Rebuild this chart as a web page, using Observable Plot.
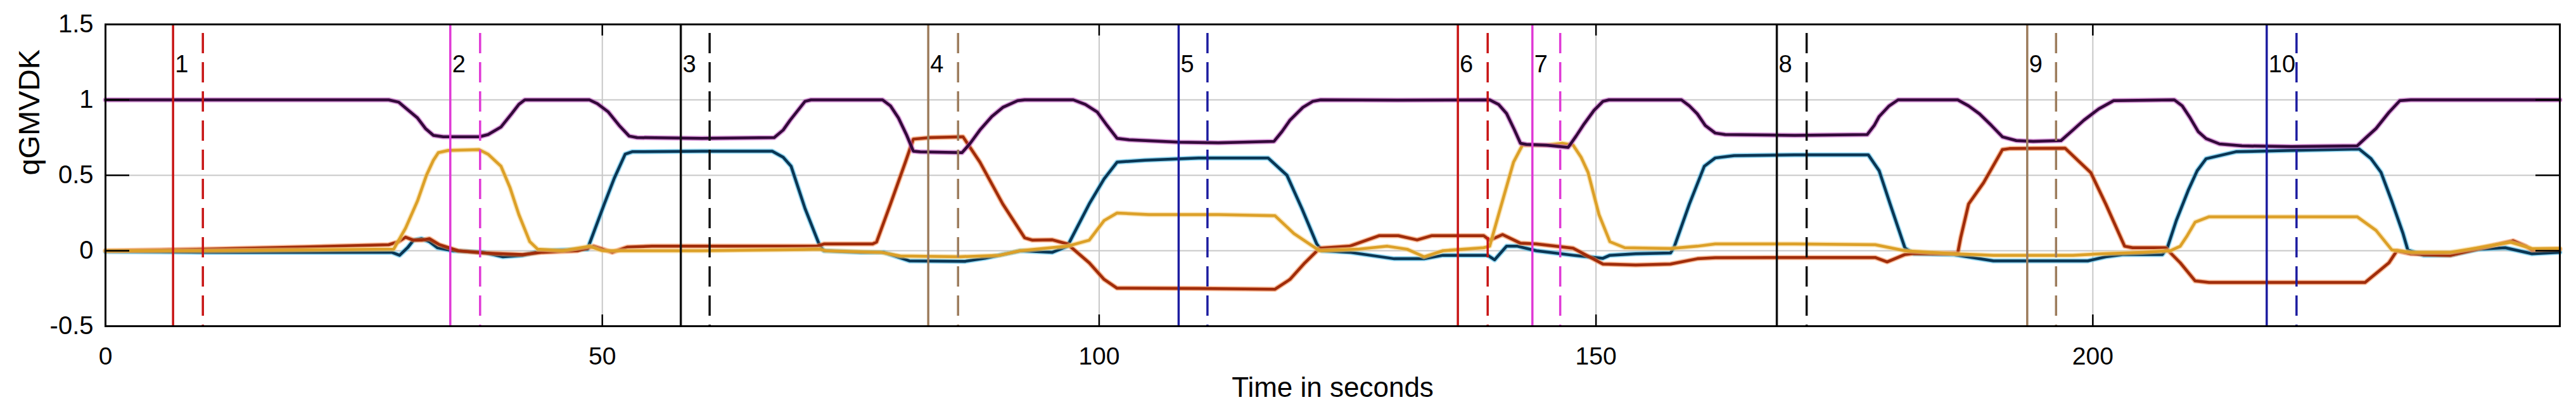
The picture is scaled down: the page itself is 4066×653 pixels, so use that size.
<!DOCTYPE html>
<html>
<head>
<meta charset="utf-8">
<script src="https://cdn.jsdelivr.net/npm/d3@7"></script>
<script src="https://cdn.jsdelivr.net/npm/@observablehq/plot@0.6"></script>
<style>
  html, body { margin: 0; padding: 0; background: #fff; }
  #chart svg { display: block; }
</style>
</head>
<body>
<div id="chart"></div>
<script>
// ---- data ----
const xTicks = [0, 50, 100, 150, 200];
const yTicks = [-0.5, 0, 0.5, 1, 1.5];
const xLabel = "Time in seconds";
const yLabel = "qGMVDK";

const eventLabels = ["1","2","3","4","5","6","7","8","9","10"];
const eventStart  = [6.8, 34.7, 57.9, 82.8, 108.0, 136.1, 143.6, 168.2, 193.4, 217.5];
const eventEnd    = [9.8, 37.7, 60.8, 85.8, 110.9, 139.1, 146.4, 171.2, 196.3, 220.5];
const eventColors = ["#c81414","#e03ad6","#111111","#9c7c5c","#1c1ca0",
                     "#c81414","#e03ad6","#111111","#9c7c5c","#1c1ca0"];

// quaternion components: [time, value]
const qPurple = [[0,1.0],[10,1.0],[20,1.0],[28.5,1.0],[29.5,0.985],[30.5,0.93],[31.4,0.88],[32.2,0.81],[33.0,0.765],[34,0.755],[36,0.755],[37.6,0.755],[38.5,0.77],[39.8,0.82],[40.9,0.91],[41.6,0.97],[42.2,1.0],[48.7,1.0],[49.5,0.975],[50.6,0.92],[51.7,0.83],[52.7,0.76],[53.5,0.75],[60,0.745],[67.3,0.75],[68.2,0.8],[68.9,0.865],[70.4,0.99],[71,1.0],[78.2,1.0],[79.0,0.96],[79.8,0.88],[80.6,0.77],[81.3,0.66],[82,0.655],[86.2,0.65],[87,0.71],[88.0,0.80],[89.2,0.89],[90.3,0.95],[91.8,0.995],[92.5,1.0],[97.4,1.0],[98.6,0.97],[99.8,0.92],[100.8,0.83],[101.8,0.745],[103,0.735],[108,0.72],[112,0.715],[117.6,0.725],[118.4,0.79],[119.2,0.865],[120.5,0.95],[121.5,0.99],[122.3,1.0],[130,0.998],[139.3,1.0],[140.2,0.97],[141,0.91],[141.8,0.8],[142.4,0.712],[143,0.705],[145,0.70],[147.2,0.685],[148,0.76],[148.8,0.84],[149.8,0.93],[150.7,0.99],[151.3,1.0],[158.6,1.0],[159.4,0.96],[160.2,0.907],[161,0.83],[162,0.78],[163,0.77],[170,0.765],[177.3,0.77],[178,0.83],[178.5,0.89],[179.5,0.96],[180.4,1.0],[186.4,1.0],[187.5,0.96],[188.6,0.907],[189.8,0.83],[190.9,0.755],[192.3,0.73],[194,0.725],[196.8,0.73],[198,0.8],[199.1,0.865],[200.6,0.94],[202.1,0.995],[208.2,1.0],[209.0,0.96],[209.8,0.88],[210.6,0.79],[211.4,0.743],[212.75,0.708],[215,0.695],[220,0.69],[226.6,0.695],[227.5,0.75],[228.5,0.81],[229.8,0.917],[230.9,0.995],[232,1.0],[240,1.0],[247,1.0]];

const qYellow = [[0,0.0],[10,0.0],[20,0.005],[29.0,0.01],[30.2,0.15],[31.4,0.33],[32.3,0.5],[33.0,0.60],[33.5,0.65],[34.5,0.665],[37.6,0.67],[38.5,0.64],[39.8,0.56],[40.7,0.42],[41.6,0.24],[42.7,0.06],[43.5,0.01],[46,0.0],[48.7,0.03],[50,0.0],[52.5,0.0],[60,0.0],[71.9,0.01],[72.5,0.0],[78,-0.01],[80,-0.035],[86,-0.04],[90,-0.03],[92,0.0],[96.8,0.03],[99.0,0.07],[100.5,0.2],[101.8,0.25],[105,0.24],[112,0.24],[117.7,0.232],[119.6,0.114],[121.5,0.03],[122.2,0.0],[126,0.01],[129,0.03],[131,0.01],[132.7,-0.04],[134.6,0.0],[138.7,0.02],[139.3,0.03],[140.2,0.24],[141.7,0.587],[142.6,0.70],[145,0.70],[146.6,0.712],[147.7,0.70],[148.5,0.62],[149.2,0.52],[150.3,0.24],[151.4,0.06],[152.9,0.02],[157.5,0.015],[160.2,0.03],[162.0,0.045],[170,0.045],[178.1,0.04],[181.1,0.0],[186,-0.02],[190,-0.03],[198,-0.03],[201,-0.02],[205,-0.01],[207.8,0.0],[208.8,0.03],[209.5,0.1],[210.3,0.19],[211.7,0.225],[220,0.225],[226.6,0.225],[228.5,0.135],[230.1,0.005],[232,-0.01],[236,-0.01],[238.8,0.02],[242,0.057],[244.2,0.014],[247,0.015]];

const qBlue = [[0,-0.005],[10,-0.01],[20,-0.01],[28.8,-0.01],[29.6,-0.03],[30.4,0.02],[31.0,0.07],[31.8,0.08],[32.6,0.06],[33.4,0.02],[35,0.0],[38,-0.01],[40,-0.04],[42,-0.03],[44,0.0],[48.5,0.01],[50.2,0.31],[51.2,0.48],[52.3,0.64],[53,0.656],[60,0.66],[67.1,0.66],[68.2,0.62],[69.0,0.56],[70.4,0.28],[71.9,0.03],[72.3,0.0],[76,-0.01],[78.3,-0.01],[80.9,-0.067],[86.5,-0.07],[88.5,-0.05],[90.3,-0.025],[92.1,0.0],[95.3,-0.01],[96.8,0.03],[99.0,0.31],[100.5,0.476],[101.8,0.587],[104.6,0.60],[110,0.615],[117.0,0.615],[118.9,0.50],[120.4,0.28],[121.9,0.045],[122.4,0.0],[125.2,-0.01],[129.7,-0.053],[132.7,-0.053],[134.6,-0.03],[139.1,-0.03],[139.8,-0.06],[141,0.03],[142.1,0.03],[144,0.0],[147.7,-0.03],[150.7,-0.05],[151.4,-0.03],[154,-0.02],[157.5,-0.015],[157.9,0.03],[159.4,0.31],[160.9,0.56],[162.0,0.615],[163.9,0.63],[170,0.636],[177.4,0.636],[178.5,0.53],[179.6,0.31],[181.1,0.017],[182,-0.02],[186,-0.025],[190,-0.067],[199.5,-0.067],[201.3,-0.04],[203,-0.025],[207,-0.025],[207.5,0.02],[208.4,0.2],[209.6,0.40],[210.5,0.53],[211.4,0.61],[214.4,0.656],[220,0.665],[226.8,0.674],[228,0.61],[229,0.52],[230.1,0.326],[231.2,0.118],[231.7,0.005],[233.3,-0.03],[236,-0.03],[238.8,0.01],[241.5,0.02],[244.2,-0.02],[247,-0.01]];

const qOrange = [[0,0.0],[10,0.01],[20,0.025],[28.5,0.04],[29.5,0.06],[30.2,0.09],[31,0.07],[31.8,0.07],[32.6,0.08],[33.6,0.04],[35.5,0.0],[38,-0.015],[42,-0.025],[44,-0.01],[47.5,0.0],[49.1,0.03],[51,-0.01],[52.5,0.024],[55,0.03],[65,0.03],[71.6,0.03],[72.3,0.045],[77.2,0.045],[77.6,0.058],[79.0,0.31],[80.5,0.587],[81.3,0.74],[83,0.75],[86.3,0.755],[88.0,0.587],[90.3,0.31],[92.5,0.086],[93.3,0.07],[95.3,0.072],[96.8,0.045],[99,-0.08],[100.5,-0.19],[101.8,-0.248],[110,-0.25],[117.7,-0.255],[119.2,-0.19],[120.7,-0.08],[122.2,0.017],[125.2,0.03],[128.2,0.1],[130.1,0.1],[132,0.072],[133.5,0.1],[138.7,0.1],[139.3,0.07],[140.6,0.107],[142.4,0.05],[144,0.045],[147.7,0.017],[150.7,-0.088],[154,-0.095],[157.5,-0.088],[160.2,-0.053],[162,-0.046],[170,-0.045],[178.1,-0.045],[179.3,-0.074],[181.1,-0.025],[181.9,-0.018],[186.4,-0.018],[186.7,0.086],[187.5,0.31],[189,0.45],[190.9,0.67],[191.6,0.677],[197.2,0.68],[199.8,0.517],[201.3,0.31],[203.2,0.03],[204,0.02],[207.3,0.02],[208.8,-0.08],[210.3,-0.2],[211.7,-0.21],[220,-0.21],[227.4,-0.21],[228.7,-0.14],[229.8,-0.08],[230.6,0.0],[232,-0.02],[236,-0.03],[238.8,0.014],[242.3,0.066],[243.6,0.03],[244.2,0.005],[247,0.01]];

// ---- layout / style ----
const W = 4066, H = 653;
const mL = 166, mR = 26, mT = 38, mB = 139;
const plotW = W - mL - mR, plotH = H - mT - mB;

const events = eventLabels.map((label, i) => ({label, start: eventStart[i], end: eventEnd[i], color: eventColors[i]}));

function seriesMarks(data, halo, core, haloW, coreW) {
  return [
    Plot.line(data, {x: d => d[0], y: d => d[1], stroke: halo, strokeWidth: haloW, strokeOpacity: 0.55}),
    Plot.line(data, {x: d => d[0], y: d => d[1], stroke: core, strokeWidth: coreW})
  ];
}

const chart = Plot.plot({
  width: W, height: H,
  marginLeft: mL, marginRight: mR, marginTop: mT, marginBottom: mB,
  x: {domain: [0, 247]},
  y: {domain: [-0.5, 1.5]},
  color: {type: "identity"},
  style: {fontFamily: "'Liberation Sans', Arial, sans-serif", fontSize: "39px", background: "#fff", color: "#000"},
  marks: [
    Plot.gridX(xTicks, {stroke: "#c8c8c8", strokeOpacity: 1, strokeWidth: 2}),
    Plot.gridY(yTicks, {stroke: "#c8c8c8", strokeOpacity: 1, strokeWidth: 2}),
    ...seriesMarks(qBlue, "#40b8e8", "#0a3654", 8, 4.5),
    ...seriesMarks(qOrange, "#f08040", "#a02c0a", 8, 4.5),
    ...seriesMarks(qYellow, "#f5d080", "#dca028", 8, 4.5),
    ...seriesMarks(qPurple, "#c050c0", "#33093a", 8, 4.5),
    Plot.ruleX(events, {x: "start", stroke: "color", strokeWidth: 3.5}),
    Plot.ruleX(events, {x: "end", stroke: "color", strokeWidth: 3.5, strokeDasharray: "32,14", strokeDashoffset: -14}),
    Plot.text(events, {x: "start", text: "label", frameAnchor: "top", dy: 49, dx: 3, textAnchor: "start", fontSize: 38, fill: "#000"}),
    Plot.ruleX(xTicks, {insetTop: plotH - 18, stroke: "#000", strokeWidth: 2.5}),
    Plot.ruleX(xTicks, {insetBottom: plotH - 18, stroke: "#000", strokeWidth: 2.5}),
    Plot.ruleY(yTicks, {insetRight: plotW - 38, stroke: "#000", strokeWidth: 2.5}),
    Plot.ruleY(yTicks, {insetLeft: plotW - 38, stroke: "#000", strokeWidth: 2.5}),
    Plot.frame({stroke: "#000", strokeWidth: 3}),
    Plot.axisX(xTicks, {tickSize: 0, tickPadding: 33, label: null, fontSize: 39, tickFormat: d => String(d)}),
    Plot.axisY(yTicks, {tickSize: 0, tickPadding: 19, label: null, fontSize: 40, tickFormat: d => String(d)}),
    Plot.text([xLabel], {frameAnchor: "bottom", dy: 111, fontSize: 44, fill: "#000"}),
    Plot.text([yLabel], {frameAnchor: "left", dx: -120, rotate: -90, fontSize: 47, fill: "#000"})
  ]
});
document.getElementById("chart").appendChild(chart);
</script>
</body>
</html>
